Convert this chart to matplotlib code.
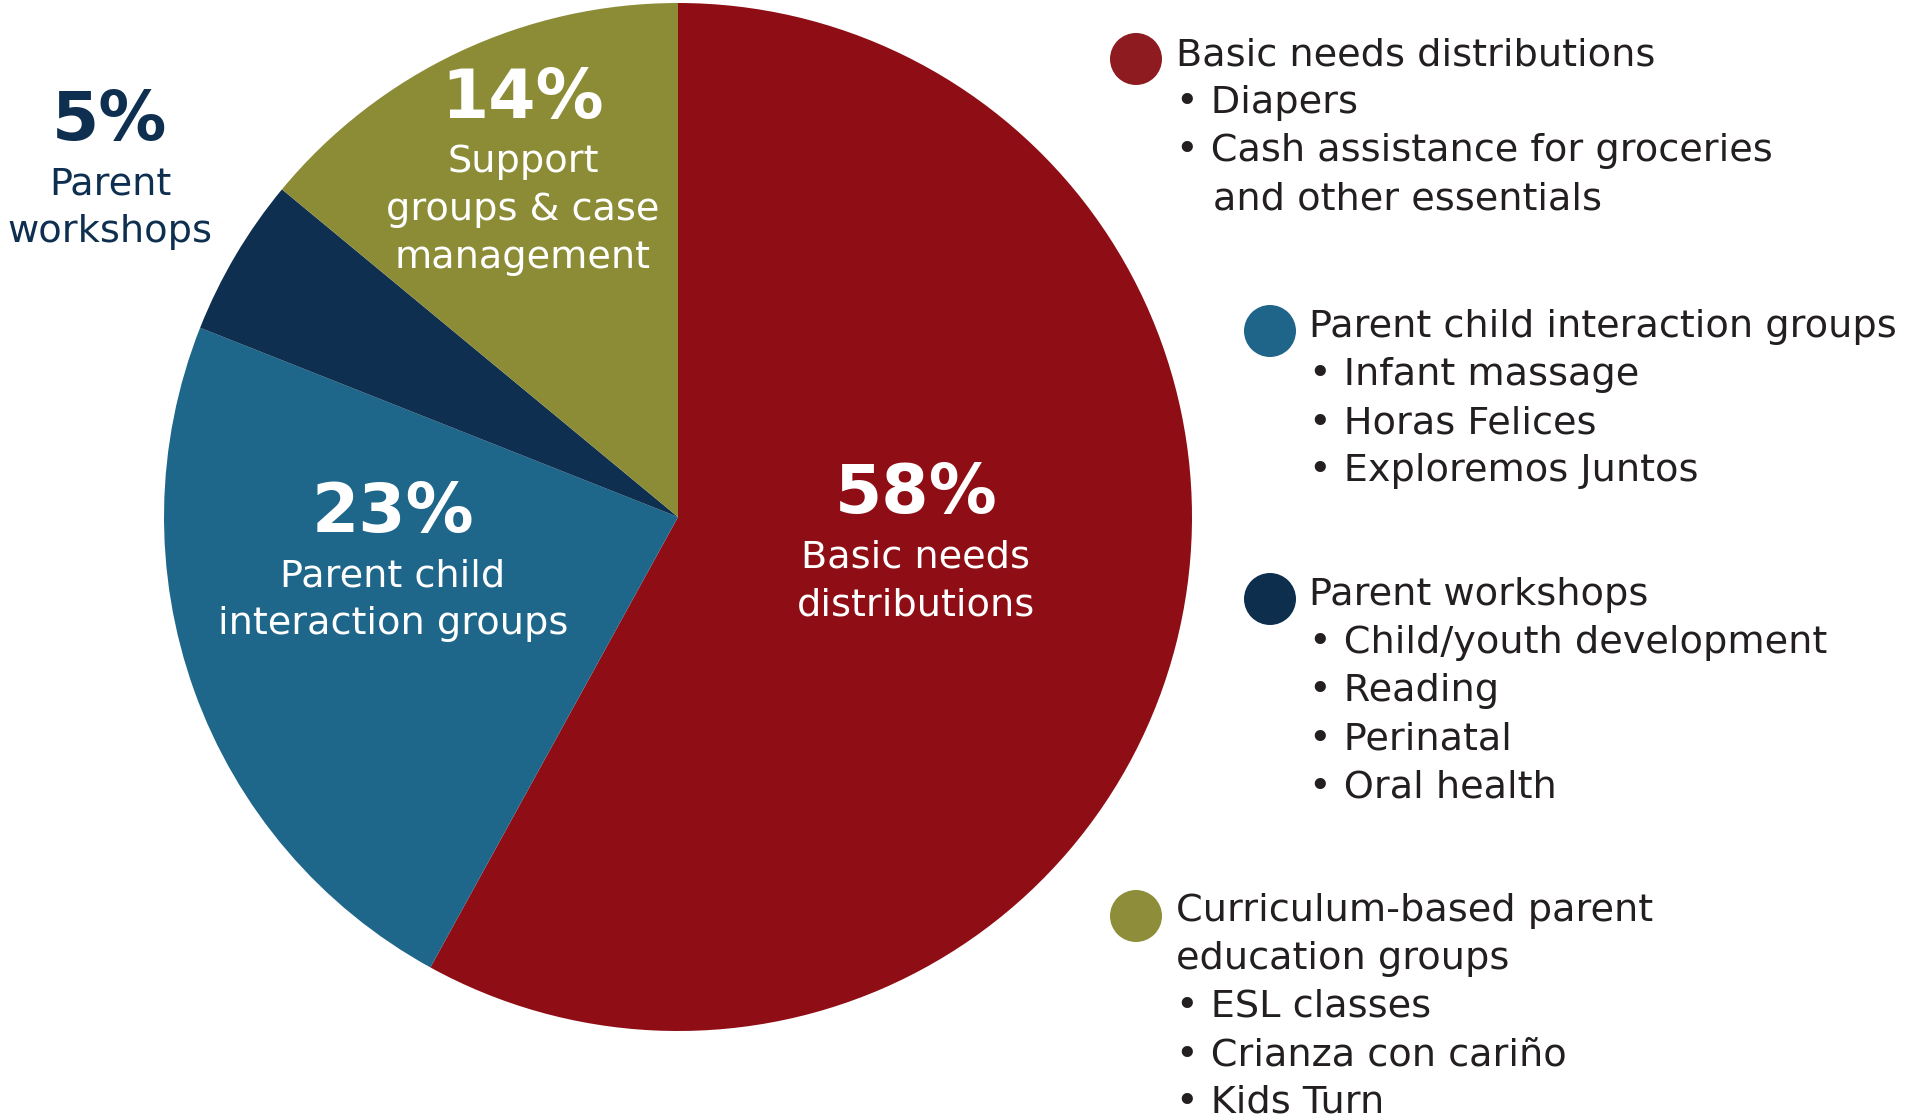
import matplotlib
matplotlib.use("Agg")
import matplotlib.pyplot as plt
from matplotlib.patches import Circle

# ---- data ----
categories = ["Basic needs distributions", "Parent child interaction groups",
              "Parent workshops", "Support groups & case management"]
shares = [58, 23, 5, 14]
pct_labels = ["58%", "23%", "5%", "14%"]
slice_colors = ["#8F0E15", "#1E668A", "#0E2F50", "#8C8C37"]
legend_colors = ["#8E1B20", "#1F658A", "#0E2E4E", "#8E8E3A"]

legend_groups = [
    ["Basic needs distributions", "\u2022 Diapers", "\u2022 Cash assistance for groceries",
     "  and other essentials"],
    ["Parent child interaction groups", "\u2022 Infant massage", "\u2022 Horas Felices",
     "\u2022 Exploremos Juntos"],
    ["Parent workshops", "\u2022 Child/youth development", "\u2022 Reading",
     "\u2022 Perinatal", "\u2022 Oral health"],
    ["Curriculum-based parent", "education groups", "\u2022 ESL classes",
     "\u2022 Crianza con cariño", "\u2022 Kids Turn"],
]
slice_sub_labels = [["Basic needs", "distributions"],
                    ["Parent child", "interaction groups"],
                    ["Parent", "workshops"],
                    ["Support", "groups & case", "management"]]

# ---- layout ----
W, H = 1915, 1119
FONT = "DejaVu Sans"
BODY = 27.5
fig = plt.figure(figsize=(W / 100, H / 100), dpi=100)
ax = fig.add_axes([0, 0, 1, 1])

def Y(py):
    return H - py

ax.pie(shares, colors=slice_colors, startangle=90, counterclock=False,
       center=(678, Y(517)), radius=514,
       wedgeprops=dict(linewidth=0, edgecolor="none"))
ax.set_xlim(0, W)
ax.set_ylim(0, H)
ax.set_aspect("equal")
ax.axis("off")

# slice labels: (center x, baseline of pct, text colour)
label_pos = [(916, 513, "white"), (393, 532, "white"), (110, 140, "#0E2F50"), (523, 118, "white")]
LS = 48
for pct, subs, (cx, by, col) in zip(pct_labels, slice_sub_labels, label_pos):
    ax.text(cx, Y(by), pct, ha="center", va="baseline", color=col,
            fontsize=49, fontweight="bold", family=FONT)
    for i, s in enumerate(subs):
        ax.text(cx, Y(by + 54 + i * LS), s, ha="center", va="baseline", color=col,
                fontsize=BODY, family=FONT)

# legend
legend_layout = [  # circle center x, circle center y, text x, first baseline
    (1136, 59, 1176, 65),
    (1270, 331, 1309, 337),
    (1270, 599, 1309, 605),
    (1136, 916, 1176, 921),
]
for lines, c, (ccx, ccy, tx, by) in zip(legend_groups, legend_colors, legend_layout):
    ax.add_patch(Circle((ccx, Y(ccy)), 26, color=c, lw=0))
    for i, s in enumerate(lines):
        if s.startswith("  "):
            x, s = tx + 37, s.strip()
        else:
            x = tx
        ax.text(x, Y(by + i * LS), s, ha="left", va="baseline", color="#231F20",
                fontsize=BODY, family=FONT)

fig.savefig("out.png", dpi=100, facecolor="white")
